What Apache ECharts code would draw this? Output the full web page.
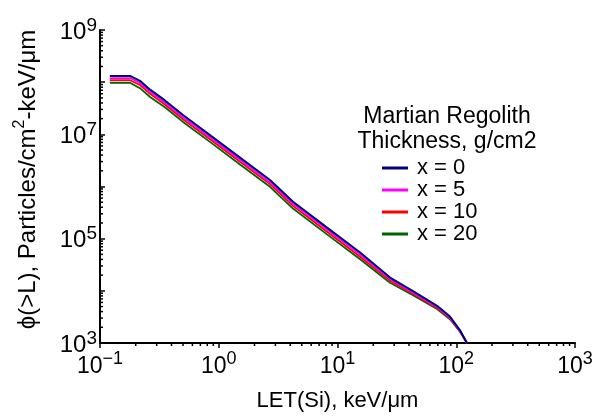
<!DOCTYPE html>
<html><head><meta charset="utf-8">
<script src="https://cdn.jsdelivr.net/npm/echarts@6/dist/echarts.min.js"></script>
<style>html,body{margin:0;padding:0;background:#fff}#c{width:597px;height:417px}</style>
</head><body><div id="c"></div>
<script>
// LET(Si), keV/um
const LET = [0.121, 0.179, 0.217, 0.264, 0.352, 0.50, 0.843, 1.51, 2.70, 4.22, 8.16, 15.5, 27.7, 43.2, 68.9, 88.5, 107.6, 123];
// Integral flux phi(>L), particles/cm2-keV/um, for regolith thickness x (g/cm2)
const flux_x0  = [1.315e8, 1.315e8, 1.059e8, 7.18e7, 4.47e7, 2.34e7, 9.66e6, 3.57e6, 1.33e6, 5.11e5, 1.63e5, 5.42e4, 1.80e4, 9.86e3, 5.16e3, 3.21e3, 1.75e3, 1.0e3];
const flux_x5  = [1.20e8, 1.20e8, 9.66e7, 6.55e7, 4.07e7, 2.13e7, 8.81e6, 3.26e6, 1.21e6, 4.66e5, 1.49e5, 4.94e4, 1.68e4, 9.20e3, 4.93e3, 3.06e3, 1.71e3, 1.0e3];
const flux_x10 = [1.09e8, 1.09e8, 8.81e7, 5.97e7, 3.72e7, 1.95e7, 8.04e6, 2.97e6, 1.11e6, 4.25e5, 1.36e5, 4.51e4, 1.57e4, 8.79e3, 4.71e3, 2.99e3, 1.67e3, 1.0e3];
const flux_x20 = [9.75e7, 9.75e7, 7.67e7, 5.20e7, 3.31e7, 1.73e7, 7.16e6, 2.65e6, 9.86e5, 3.78e5, 1.21e5, 4.02e4, 1.43e4, 8.20e3, 4.50e3, 2.86e3, 1.64e3, 1.0e3];
const seriesNames = ['x = 0', 'x = 5', 'x = 10', 'x = 20'];
const xTickExps = [-1, 0, 1, 2, 3];
const yTickExps = [3, 5, 7, 9];

const FONT = '"Liberation Sans", Arial, Helvetica, sans-serif';
const colors = ['#00007f', '#ff00ff', '#ff0000', '#006400'];
const widths = [2, 1.8, 1.8, 1.8];
const fluxes = [flux_x0, flux_x5, flux_x10, flux_x20];

// minor tick positions (2..9 per decade)
const xMinor = [], yMinor = [];
for (let d = -1; d < 3; d++) for (let k = 2; k < 10; k++) xMinor.push(k * Math.pow(10, d));
for (let d = 3; d < 9; d++) for (let k = 2; k < 10; k++) yMinor.push(k * Math.pow(10, d));

function expOf(v) { return Math.round(Math.log10(v)); }
function supLabel(e) { return '{b|10}{s|' + (e < 0 ? '\u2212' + (-e) : e) + '}'; }
const richX = {
  b: { fontSize: 23, fontFamily: FONT, color: '#000', lineHeight: 28, verticalAlign: 'bottom' },
  s: { fontSize: 18, fontFamily: FONT, color: '#000', lineHeight: 18, verticalAlign: 'top' }
};
const richY = {
  b: { fontSize: 24, fontFamily: FONT, color: '#000', lineHeight: 28, verticalAlign: 'bottom' },
  s: { fontSize: 19, fontFamily: FONT, color: '#000', lineHeight: 18, verticalAlign: 'top' }
};

const chart = echarts.init(document.getElementById('c'), null, { renderer: 'canvas' });
const lineSeries = seriesNames.map((n, i) => ({
  name: n, type: 'line', showSymbol: false, symbol: 'none', z: 5 - i,
  lineStyle: { color: colors[i], width: widths[i] }, itemStyle: { color: colors[i] },
  data: LET.map((x, j) => [x, fluxes[i][j]])
}));

const minorX = {
  type: 'custom', silent: true, clip: false, z: 10,
  data: xMinor.map(v => [v, 1e3]),
  renderItem: (params, api) => {
    const p = api.coord([api.value(0), api.value(1)]);
    return { type: 'line', shape: { x1: p[0], y1: p[1], x2: p[0], y2: p[1] + 3 }, style: { stroke: '#000', lineWidth: 1.5 } };
  }
};
const minorY = {
  type: 'custom', silent: true, clip: false, z: 10,
  data: yMinor.map(v => [0.1, v]),
  renderItem: (params, api) => {
    const p = api.coord([api.value(0), api.value(1)]);
    return { type: 'line', shape: { x1: p[0], y1: p[1], x2: p[0] + 3, y2: p[1] }, style: { stroke: '#000', lineWidth: 1.5 } };
  }
};

chart.setOption({
  animation: false,
  backgroundColor: '#fff',
  grid: { left: 100, right: 22, top: 30, bottom: 67, containLabel: false },
  xAxis: {
    type: 'log', logBase: 10, min: 0.1, max: 1000,
    name: 'LET(Si), keV/\u03bcm', nameLocation: 'middle', nameGap: 47,
    nameTextStyle: { fontSize: 22, fontFamily: FONT, color: '#000' },
    axisLine: { show: true, lineStyle: { color: '#000', width: 2 } },
    axisTick: { show: true, inside: false, length: 5, lineStyle: { color: '#000', width: 1.5 } },
    splitLine: { show: false }, minorTick: { show: false },
    axisLabel: {
      show: true, margin: 7, showMinLabel: true, showMaxLabel: true, hideOverlap: false,
      formatter: v => { const e = expOf(v); return xTickExps.includes(e) ? supLabel(e) : ''; },
      rich: richX
    }
  },
  yAxis: {
    type: 'log', logBase: 10, min: 1e3, max: 1e9,
    name: '{n|\u03d5(>L), Particles/cm}{s|2}{n|-keV/\u03bcm}', nameLocation: 'middle', nameGap: 60, nameRotate: 90,
    nameTextStyle: {
      fontSize: 24, fontFamily: FONT, color: '#000', padding: [0, 0, 0, 14],
      rich: {
        n: { fontSize: 24, fontFamily: FONT, color: '#000', lineHeight: 28, verticalAlign: 'bottom' },
        s: { fontSize: 16, fontFamily: FONT, color: '#000', lineHeight: 16, verticalAlign: 'top' }
      }
    },
    axisLine: { show: true, lineStyle: { color: '#000', width: 2 } },
    axisTick: { show: true, inside: true, length: 5, lineStyle: { color: '#000', width: 1.5 } },
    splitLine: { show: false }, minorTick: { show: false },
    axisLabel: {
      show: true, margin: 3, showMinLabel: true, showMaxLabel: true, hideOverlap: false,
      formatter: v => { const e = expOf(v); return yTickExps.includes(e) ? supLabel(e) : ''; },
      rich: richY
    }
  },
  legend: {
    data: seriesNames, orient: 'vertical', left: 382, top: 157, padding: 0,
    itemWidth: 26, itemHeight: 3, itemGap: 0, icon: 'rect',
    textStyle: { fontSize: 22, fontFamily: FONT, color: '#000', lineHeight: 22, padding: [0, 0, 0, 4] },
    selectedMode: false
  },
  graphic: [
    { type: 'text', x: 447, y: 104, z: 100,
      style: { text: 'Martian Regolith\nThickness, g/cm2', textAlign: 'center', fontSize: 23, lineHeight: 25, fontFamily: FONT, fill: '#000' } }
  ],
  series: [...lineSeries, minorX, minorY]
});
</script></body></html>
